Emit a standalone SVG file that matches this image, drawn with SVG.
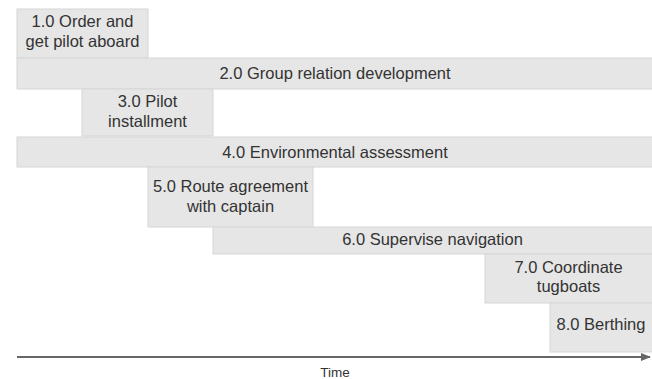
<svg xmlns="http://www.w3.org/2000/svg" width="652" height="379" viewBox="0 0 652 379">
<style>
.b{fill:#e6e6e6;stroke:#d6d6d6;stroke-width:1}
.t{font-family:"Liberation Sans",Arial,sans-serif;font-size:16.5px;fill:#333;text-anchor:middle}
.s{font-family:"Liberation Sans",Arial,sans-serif;font-size:13.5px;fill:#333;text-anchor:middle}
</style>
<defs>
<marker id="ah" markerWidth="10" markerHeight="8" refX="9" refY="4" orient="auto" markerUnits="userSpaceOnUse">
<path d="M0,0 L10,4 L0,8 Z" fill="#666"/>
</marker>
</defs>
<g id="n1"><rect class="b" x="17" y="9" width="131" height="49"/><text class="t" x="82.5" y="27">1.0 Order and</text><text class="t" x="82.5" y="47">get pilot aboard</text></g>
<g id="n2"><rect class="b" x="17" y="58" width="640" height="31"/><text class="t" x="335" y="79">2.0 Group relation development</text></g>
<g id="n3"><rect class="b" x="82" y="89" width="131" height="47"/><text class="t" x="147.5" y="107">3.0 Pilot</text><text class="t" x="147.5" y="127">installment</text></g>
<g id="n4"><rect class="b" x="17" y="137" width="640" height="30"/><text class="t" x="335" y="158">4.0 Environmental assessment</text></g>
<g id="n5"><rect class="b" x="148" y="167" width="165" height="60"/><text class="t" x="230.5" y="192">5.0 Route agreement</text><text class="t" x="230.5" y="212">with captain</text></g>
<g id="n6"><rect class="b" x="213" y="227" width="444" height="27"/><text class="t" x="432.5" y="245">6.0 Supervise navigation</text></g>
<g id="n7"><rect class="b" x="485" y="254" width="172" height="49"/><text class="t" x="568.5" y="273">7.0 Coordinate</text><text class="t" x="568.5" y="292">tugboats</text></g>
<g id="n8"><rect class="b" x="550" y="303" width="107" height="49"/><text class="t" x="601" y="330">8.0 Berthing</text></g>
<g id="connectors"><line x1="17" y1="357" x2="650" y2="357" stroke="#666" stroke-width="2" marker-end="url(#ah)"/></g>
<text class="s" x="335" y="377">Time</text>
</svg>
